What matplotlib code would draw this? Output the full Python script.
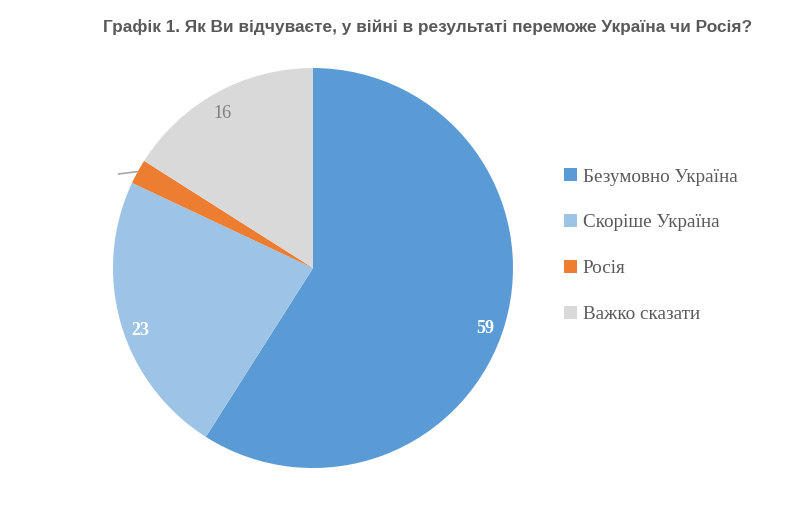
import matplotlib.pyplot as plt
from matplotlib.patches import Patch

labels = ['Безумовно Україна', 'Скоріше Україна', 'Росія', 'Важко сказати']
values = [59, 23, 2, 16]
colors = ['#5B9BD5', '#9DC3E6', '#ED7D31', '#D9D9D9']
shown = ['59', '23', '', '16']

fig = plt.figure(figsize=(8, 5.12), dpi=100)
fig.patch.set_facecolor('white')

# pie: centre ~ (313, 268) px, radius 200 px
ax = fig.add_axes([0.14125, 0.0859, 0.5, 0.78125])
wedges, _ = ax.pie(values, colors=colors, startangle=90, counterclock=False,
                   radius=1.0, wedgeprops=dict(linewidth=0))
ax.set_xlim(-1, 1)
ax.set_ylim(-1, 1)
ax.set_aspect('equal')
ax.axis('off')

# data labels
lab_pos = [(0.86, -0.30), (-0.865, -0.31), None, (-0.455, 0.775)]
for txt, pos, i in zip(shown, lab_pos, range(4)):
    if pos is None:
        continue
    white = i < 2
    ax.text(pos[0], pos[1], txt, ha='center', va='center',
            family='Liberation Serif', fontsize=13,
            fontweight='bold' if white else 'normal',
            color='white' if white else '#7F7F7F')

# leader line for the small slice
ax.plot([-0.876, -0.975], [0.482, 0.47], color='#A6A6A6', lw=1.2,
        solid_capstyle='butt')

fig.text(0.534, 0.947, 'Графік 1. Як Ви відчуваєте, у війні в результаті переможе Україна чи Росія?',
         ha='center', va='center', family='Liberation Sans', fontweight='bold',
         fontsize=12.4, color='#595959')

handles = [Patch(facecolor=c, edgecolor='none') for c in colors]
leg = fig.legend(handles, labels, loc='center left', bbox_to_anchor=(0.684, 0.52),
                 frameon=False, prop=dict(family='Liberation Serif', size=13.8),
                 handlelength=0.65, handleheight=0.65, handletextpad=0.3,
                 labelspacing=1.5, labelcolor='#595959')

fig.savefig('out.png', dpi=100)
